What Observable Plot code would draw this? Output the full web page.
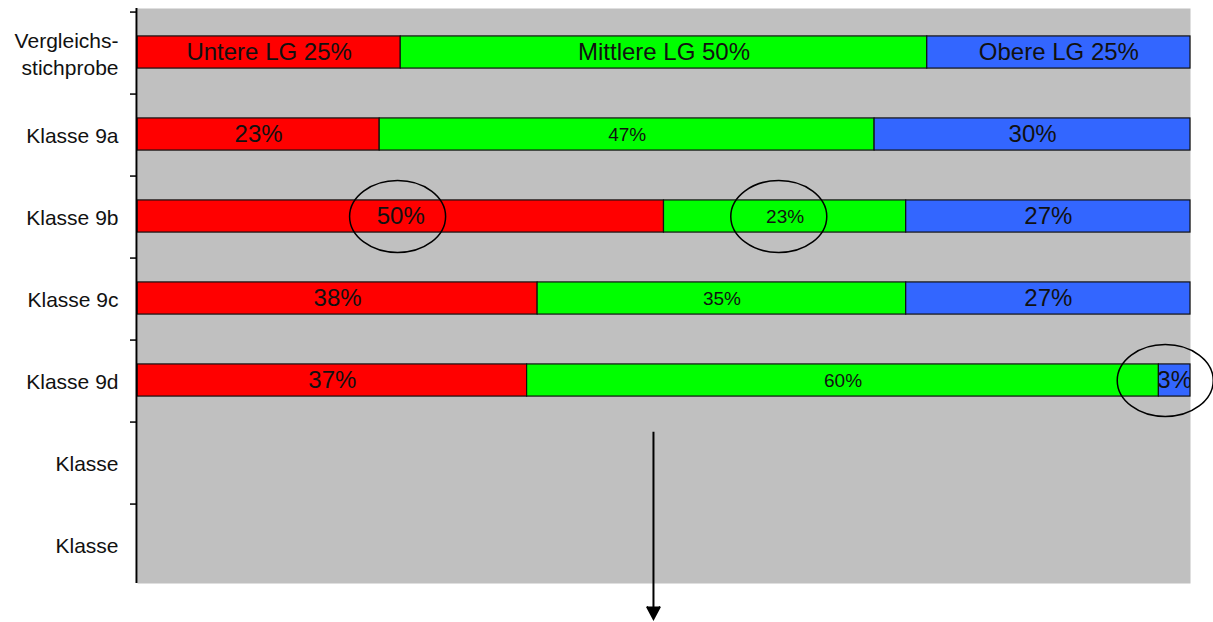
<!DOCTYPE html>
<html>
<head>
<meta charset="utf-8">
<script src="https://cdn.jsdelivr.net/npm/d3@7"></script>
<script src="https://cdn.jsdelivr.net/npm/@observablehq/plot@0.6"></script>
<style>
  html, body { margin: 0; padding: 0; background: #ffffff; }
  #chart { width: 1213px; height: 622px; }
</style>
</head>
<body>
<div id="chart"></div>
<script>
// ---- data ----
const categoryIds = ["Vergleich", "9a", "9b", "9c", "9d", "leer1", "leer2"];
const categoryLabels = ["Vergleichs-\nstichprobe", "Klasse 9a", "Klasse 9b", "Klasse 9c", "Klasse 9d", "Klasse", "Klasse"];
const groups = ["Untere LG", "Mittlere LG", "Obere LG"];
const groupColors = ["#ff0000", "#00ff00", "#3366ff"];
const untere   = [25, 23, 50, 38, 37, null, null];
const mittlere = [50, 47, 23, 35, 60, null, null];
const obere    = [25, 30, 27, 27, 3, null, null];
// circled labels (category, centre in percent)
const highlightCats = ["9b", "9b", "9d"];
const highlightX = [24.7, 60.9, 97.6];
// arrow annotation (percent position, from category to category)
const arrowX = 49;
const arrowFrom = "9d";
const arrowTo = "leer2";

// ---- build table ----
const series = [untere, mittlere, obere];
const rows = [];
categoryIds.forEach((cat, i) => {
  series.forEach((vals, g) => {
    if (vals[i] != null) rows.push({cat, group: groups[g], gi: g, value: vals[i], first: i === 0});
  });
});
const labelOf = new Map(categoryIds.map((c, i) => [c, categoryLabels[i]]));
const hlData = highlightCats.map((cat, i) => ({cat, x: highlightX[i]}));

// custom ellipse symbol
function ellipseSymbol(rx, ry) {
  const k = 0.5523;
  return {
    draw(ctx) {
      ctx.moveTo(rx, 0);
      ctx.bezierCurveTo(rx, ry * k, rx * k, ry, 0, ry);
      ctx.bezierCurveTo(-rx * k, ry, -rx, ry * k, -rx, 0);
      ctx.bezierCurveTo(-rx, -ry * k, -rx * k, -ry, 0, -ry);
      ctx.bezierCurveTo(rx * k, -ry, rx, -ry * k, rx, 0);
      ctx.closePath();
    }
  };
}

const W = 1213, H = 622;
const mTop = 8, mBottom = 34;
const bw = (H - mTop - mBottom) / categoryIds.length;

const chart = Plot.plot({
  width: W,
  height: H,
  marginLeft: 137,
  marginRight: 23,
  marginTop: mTop,
  marginBottom: mBottom,
  style: {fontFamily: "Arial, 'Liberation Sans', sans-serif", background: "#ffffff", color: "#000"},
  x: {domain: [0, 100], axis: null},
  y: {domain: categoryIds, padding: 0, axis: null},
  color: {domain: groups, range: groupColors},
  marks: [
    Plot.frame({fill: "#c0c0c0", insetBottom: 5}),
    Plot.barX(rows, Plot.stackX({
      x: "value", y: "cat", z: "group", fill: "group",
      stroke: "#111", strokeWidth: 1.2,
      insetTop: (bw - 33) / 2, insetBottom: (bw - 33) / 2
    })),
    Plot.text(rows, Plot.stackX({
      x: "value", y: "cat", z: "group",
      text: d => d.first ? `${d.group} ${d.value}%` : `${d.value}%`,
      fontSize: d => (d.gi === 1 && !d.first) ? 19 : 24,
      fill: "#111",
      clip: true
    })),
    Plot.ruleX([0], {stroke: "#000", strokeWidth: 2, dx: -1, insetBottom: 5}),
    Plot.axisY({tickSize: 7, tickFormat: () => "", dy: -bw / 2 + 1, stroke: "#000", strokeWidth: 1.5}),
    Plot.axisY({
      tickSize: 0, tickPadding: 19, fontSize: 21, lineHeight: 1.3,
      tickFormat: d => labelOf.get(d), fill: "#111"
    }),
    Plot.dot(hlData, {
      x: "x", y: "cat", symbol: ellipseSymbol(48, 36),
      stroke: "#000", strokeWidth: 1.5, fill: "none"
    }),
    Plot.arrow([{x: arrowX, y1: arrowFrom, y2: arrowTo}], {
      x: "x", y1: "y1", y2: "y2",
      insetStart: 432 - (mTop + 4.5 * bw),
      insetEnd: -(621 - (mTop + 6.5 * bw)),
      stroke: "#000", fill: "#000", strokeWidth: 2,
      headLength: 10.5, headAngle: 56,
      strokeLinecap: "butt", strokeLinejoin: "miter", strokeMiterlimit: 10
    })
  ]
});
document.getElementById("chart").appendChild(chart);
</script>
</body>
</html>
